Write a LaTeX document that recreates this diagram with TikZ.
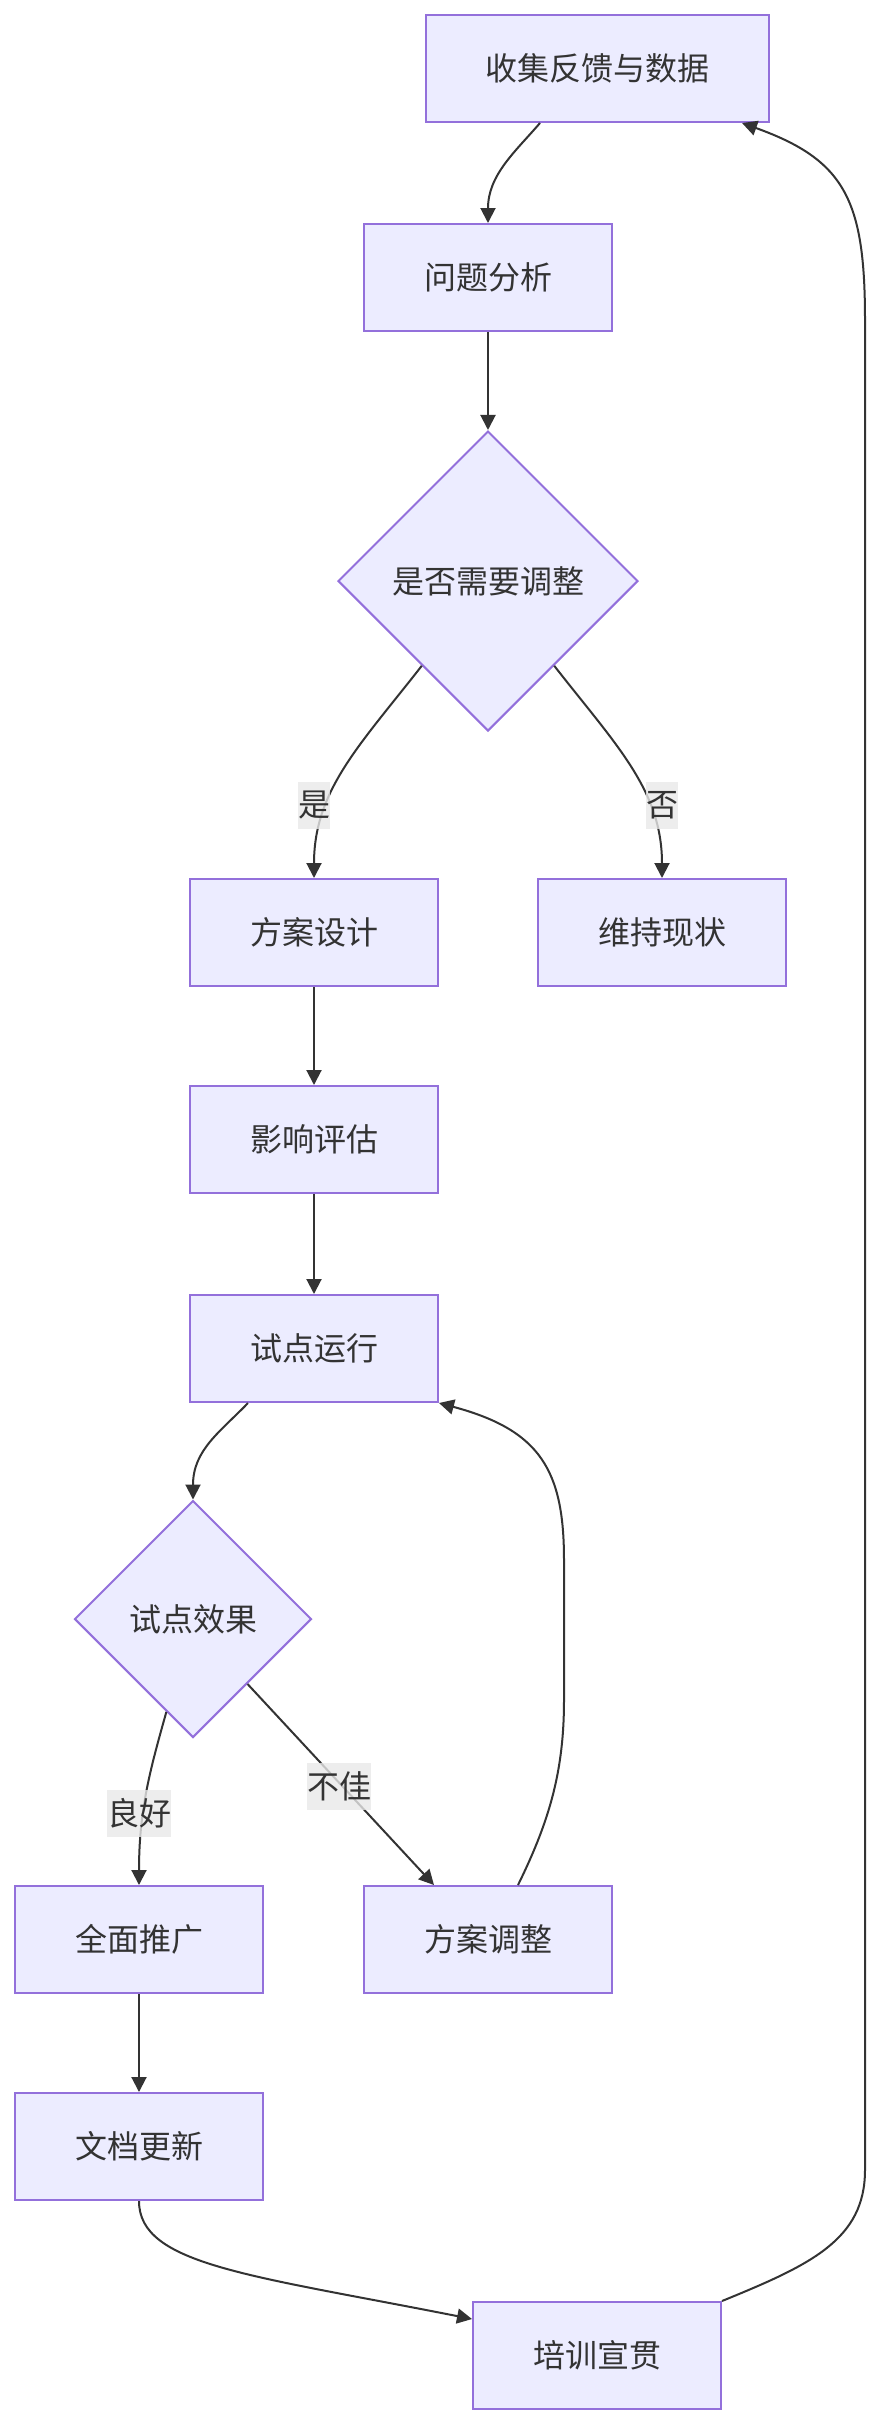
\documentclass[tikz,border=0pt]{standalone}
\usepackage{fontspec}
\setmainfont{Noto Sans CJK SC}
\usetikzlibrary{shapes.geometric,arrows.meta,calc}
\definecolor{boxfill}{HTML}{ECECFF}
\definecolor{boxline}{HTML}{9370DB}
\definecolor{edgec}{HTML}{333333}
\definecolor{lblbg}{HTML}{E8E8E8}
\begin{document}
\begin{tikzpicture}[x=1pt,y=-1pt,
  txt/.style={text=edgec, font=\fontsize{32}{38}\selectfont},
  box/.style={txt, rectangle, draw=boxline, fill=boxfill, line width=2pt,
    minimum width=248pt, minimum height=107pt, inner sep=0pt},
  dec/.style={txt, diamond, aspect=1, draw=boxline, fill=boxfill, line width=2pt, inner sep=0pt},
  conn/.style={draw=edgec, line width=2pt, -{Triangle[length=15pt,width=15pt]}},
  lbl/.style={txt, fill=lblbg, fill opacity=0.8, text opacity=1,
    inner xsep=0pt, inner ysep=0pt, minimum height=47pt}]
\useasboundingbox (0,0) rectangle (885,2428);

\node[box, minimum width=343pt] (A) at (597,68.5) {收集反馈与数据};
\node[box] (B) at (488,277.5) {问题分析};
\node[dec, minimum width=300pt, minimum height=300pt] (C) at (488,581) {是否需要调整};
\node[box] (D) at (314,932.5) {方案设计};
\node[box] (E) at (662,932.5) {维持现状};
\node[box] (F) at (314,1139.5) {影响评估};
\node[box] (G) at (314,1348.5) {试点运行};
\node[dec, minimum width=237pt, minimum height=237pt] (H) at (193,1619) {试点效果};
\node[box] (I) at (139,1939.5) {全面推广};
\node[box] (J) at (488,1939.5) {方案调整};
\node[box] (K) at (139,2146.5) {文档更新};
\node[box] (L) at (597,2355.5) {培训宣贯};

\draw[conn] ($(A.south)+(-57,0)$) .. controls (515,152) and (488,175) .. (B.north);
\draw[conn] (B) -- (C);
\draw[conn] (C.232) .. controls (360,745) and (314,790) .. (D.north);
\draw[conn] (C.308) .. controls (616,745) and (662,790) .. (E.north);
\draw[conn] (D) -- (F);
\draw[conn] (F) -- (G);
\draw[conn] ($(G.south)+(-66,0)$) .. controls (220,1432) and (193,1450) .. (H.north);
\draw[conn] (H.254) .. controls (150,1770) and (139,1810) .. (I.north);
\draw[conn] (H.310) -- ($(J.north)+(-54,0)$);
\draw[conn] ($(J.north)+(30,0)$) .. controls (550,1820) and (564,1770) .. (564,1700)
  -- (564,1560) .. controls (564,1470) and (540,1430) .. (G.south east);
\draw[conn] (I) -- (K);
\draw[conn] (K.south) .. controls (139,2265) and (250,2275) .. ($(L.north west)+(0,18)$);
\draw[conn] (L.north east) .. controls (810,2265) and (865,2240) .. (865,2170)
  -- (865,320) .. controls (865,200) and (845,160) .. ($(A.south)+(145,0)$);

\node[lbl] (l1) at (314,805) {是};
\node[lbl] (l2) at (662,805) {否};
\node[lbl] (l3) at (139,1813) {良好};
\node[lbl] (l4) at (339,1786) {不佳};
\end{tikzpicture}
\end{document}
